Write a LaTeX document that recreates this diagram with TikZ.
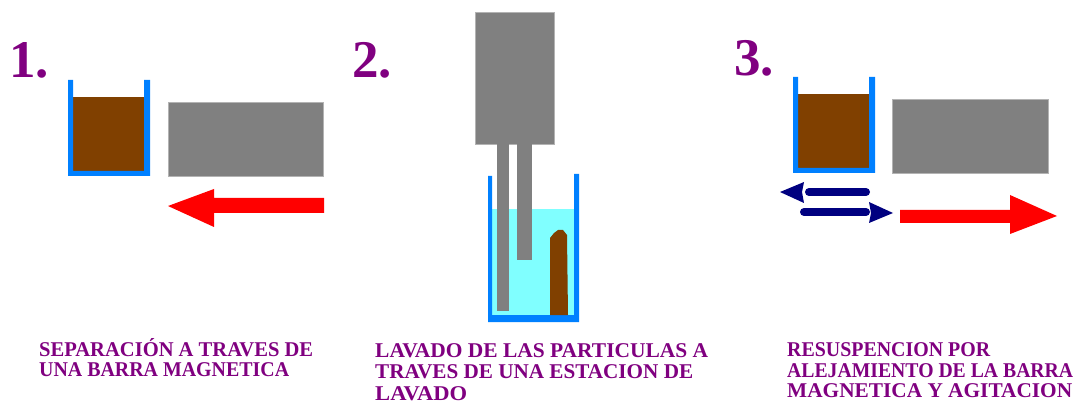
\documentclass[tikz,border=0pt]{standalone}
\usepackage{fontspec}
\usepackage{graphicx}
\setmainfont{Liberation Serif}
\definecolor{labelpurple}{RGB}{128,0,128}
\definecolor{beakerblue}{RGB}{0,128,255}
\definecolor{sediment}{RGB}{128,64,0}
\definecolor{magnetgray}{RGB}{128,128,128}
\definecolor{washliquid}{RGB}{128,255,255}
\definecolor{navyarrow}{RGB}{0,0,128}
% set a caption line to a given width, keeping its height
\newcommand{\linewid}[2]{\resizebox{#1pt}{\height}{#2}}
\tikzset{
  stepnum/.style={anchor=base west, inner sep=0pt, text=labelpurple,
    font=\fontsize{53}{60}\selectfont\bfseries},
  caption/.style={anchor=base west, inner sep=0pt, text=labelpurple,
    font=\fontsize{21}{22}\selectfont\bfseries},
  magnet/.style={fill=magnetgray, draw=magnetgray!60, line width=0.8pt},
  glass/.style={fill=beakerblue},
  particles/.style={fill=sediment},
  bigarrow/.style={fill=red},
  shakearrow/.style={fill=navyarrow},
}
\begin{document}
\begin{tikzpicture}[x=1pt, y=-1pt]
\useasboundingbox[fill=white] (0,0) rectangle (1085,406);

% ---------- step 1: magnet attracts the particles ----------
\node[stepnum] (n1) at (9,78) {1.};
\fill[particles] (72,97) rectangle (144,172);
\fill[glass] (68,80) -- (73,80) -- (73,171) -- (144,171) -- (144,80) -- (150,80)
  -- (150,176) -- (68,176) -- cycle;
\filldraw[magnet] (168,102) rectangle (323,176);
\fill[bigarrow] (168,206) -- (214,189) -- (214,198) -- (324,198) -- (324,213)
  -- (214,213) -- (214,227) -- cycle;

% ---------- step 2: washing station ----------
\node[stepnum] (n2) at (352,78) {2.};
\fill[washliquid] (492,209) rectangle (574,315);
\fill[glass] (488,176) -- (492,176) -- (492,315) -- (574,315) -- (574,174) -- (579,174)
  -- (579,322) -- (488,322) -- cycle;
\filldraw[magnet] (475,12) rectangle (554,144);
\fill[magnetgray] (497,144) rectangle (509,311);
\fill[magnetgray] (517,144) rectangle (532,260);
\fill[particles] (550,315) -- (550,238) -- (554,233) -- (558,230) -- (563,230)
  -- (567,235) -- (568,315) -- cycle;

% ---------- step 3: magnet removed, resuspension ----------
\node[stepnum] (n3) at (734,76) {3.};
\fill[particles] (797,94) rectangle (869,168);
\fill[glass] (793,77) -- (798,77) -- (798,168) -- (869,168) -- (869,77) -- (875,77)
  -- (875,173) -- (793,173) -- cycle;
\filldraw[magnet] (892,99) rectangle (1048,173);
% agitation arrows
\draw[navyarrow, line width=8pt, line cap=round] (809,192) -- (866,192);
\fill[shakearrow] (780,192) -- (804,182) -- (802,192) -- (804,203) -- cycle;
\draw[navyarrow, line width=8pt, line cap=round] (804,212) -- (866,212);
\fill[shakearrow] (893,213) -- (869,202) -- (871,213) -- (869,223) -- cycle;
\fill[bigarrow] (1057,216) -- (1010,195) -- (1010,210) -- (900,210) -- (900,223)
  -- (1010,223) -- (1010,234) -- cycle;

% ---------- captions ----------
\node[caption] (c1a) at (39,356) {\linewid{274}{SEPARACIÓN A TRAVES DE}};
\node[caption] (c1b) at (39,376) {\linewid{250}{UNA BARRA MAGNETICA}};

\node[caption] (c2a) at (375,357) {\linewid{333}{LAVADO DE LAS PARTICULAS A}};
\node[caption] (c2b) at (375,378.5) {\linewid{318}{TRAVES DE UNA ESTACION DE}};
\node[caption] (c2c) at (375,400.5) {\linewid{92}{LAVADO}};

\node[caption] (c3a) at (787,356.5) {\linewid{203}{RESUSPENCION POR}};
\node[caption] (c3b) at (787,377.5) {\linewid{286}{ALEJAMIENTO DE LA BARRA}};
\node[caption] (c3c) at (787,397.5) {\linewid{285}{MAGNETICA Y AGITACION}};
\end{tikzpicture}
\end{document}
